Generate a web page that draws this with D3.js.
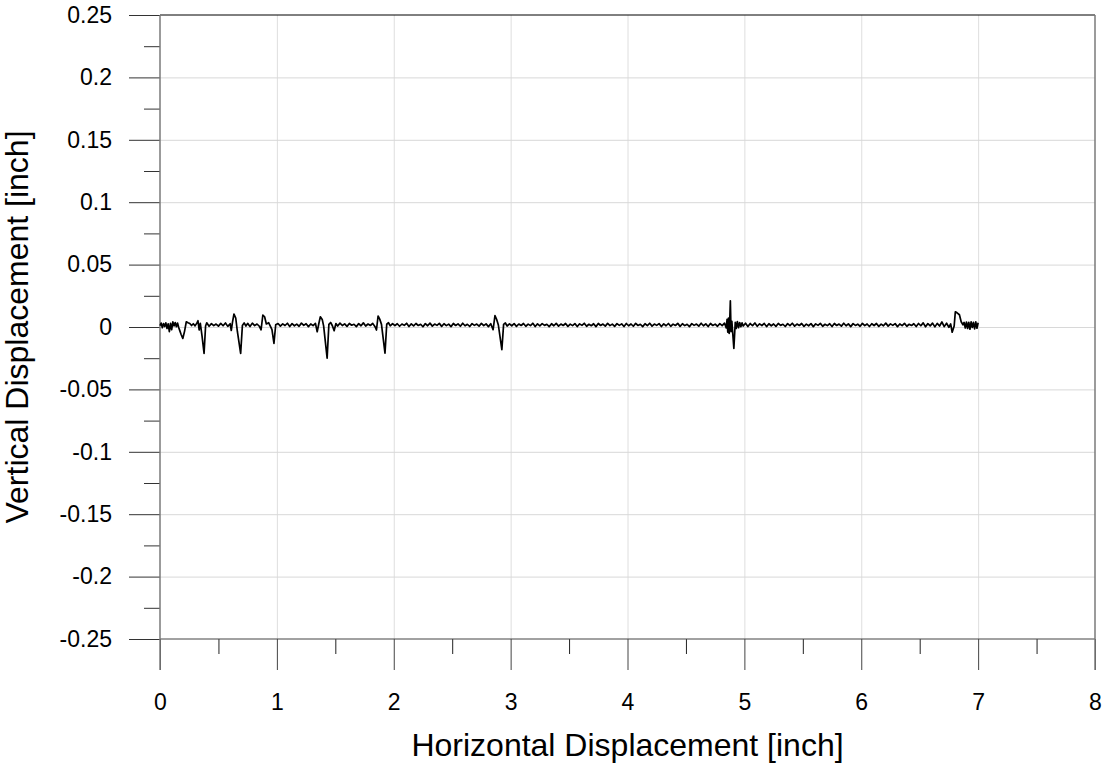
<!DOCTYPE html>
<html>
<head>
<meta charset="utf-8">
<script src="https://cdn.jsdelivr.net/npm/d3@7"></script>
<style>
  body { margin: 0; background: #fff; }
  text { font-family: "Liberation Sans", Arial, sans-serif; fill: #000; }
</style>
</head>
<body>
<svg id="chart" width="1102" height="764"></svg>
<script>
// Axis ticks and labels
const xTickValues = [0, 1, 2, 3, 4, 5, 6, 7, 8];
const xTickLabels = ["0", "1", "2", "3", "4", "5", "6", "7", "8"];
const xMinorTicks = [0.5, 1.5, 2.5, 3.5, 4.5, 5.5, 6.5, 7.5];
const yTickValues = [0.25, 0.2, 0.15, 0.1, 0.05, 0, -0.05, -0.1, -0.15, -0.2, -0.25];
const yTickLabels = ["0.25", "0.2", "0.15", "0.1", "0.05", "0", "-0.05", "-0.1", "-0.15", "-0.2", "-0.25"];
const yMinorTicks = [0.225, 0.175, 0.125, 0.075, 0.025, -0.025, -0.075, -0.125, -0.175, -0.225];

const xTitle = "Horizontal Displacement [inch]";
const yTitle = "Vertical Displacement [inch]";

// Measured profile: [horizontal, vertical] in inches
const trace = [
  [0,.0012],[.01,.0031],[.02,-.0006],[.03,.0028],[.04,.0004],[.05,.0033],[.06,-.0012],[.07,.0026],[.08,-.0038],[.09,.0030],
  [.10,-.0022],[.11,.0041],[.12,.0009],[.13,.0036],[.14,.0002],[.15,.0032],[.16,-.0004],[.17,-.0031],[.18,-.0058],[.195,-.0092],
  [.21,-.0035],[.225,.0042],[.24,.0034],[.255,.0028],[.27,.0012],[.285,.0026],[.30,.0009],[.315,.0031],[.325,.0050],[.335,-.0024],
  [.345,.0030],[.36,-.0075],[.377,-.0212],[.39,.0008],[.40,.0034],[.42,.0006],[.44,.0027],[.46,.0011],[.48,.0024],[.50,.0007],
  [.52,.0029],[.54,.0010],[.56,.0032],[.58,.0005],[.60,.0026],[.61,-.0028],[.62,.0037],[.633,.0104],[.648,.0072],[.662,-.0036],
  [.69,-.0212],[.705,.0012],[.72,.0033],[.735,.0008],[.75,.0029],[.77,.0004],[.79,.0031],[.81,.0011],[.83,.0024],[.85,.0006],
  [.865,-.0022],[.88,.0096],[.895,.0082],[.91,.0024],[.93,.0034],[.945,.0005],[.958,-.0021],[.975,-.0132],[.99,.0018],
  [1.01,.0028],[1.03,.0007],[1.05,.0025],[1.07,.0012],[1.09,.0030],[1.11,.0004],[1.13,.0027],[1.15,.0010],[1.17,.0023],[1.19,.0006],
  [1.21,.0031],[1.23,.0013],[1.25,.0026],[1.27,.0003],[1.29,.0024],[1.31,.0011],[1.33,.0029],[1.345,-.0038],[1.36,.0032],[1.372,.0082],
  [1.388,.0061],[1.40,.0009],[1.43,-.0250],[1.445,.0021],[1.46,.0036],[1.475,.0010],[1.49,-.0030],[1.505,.0028],[1.52,.0008],[1.54,.0031],
  [1.56,.0012],[1.58,.0025],[1.60,.0005],[1.62,.0028],[1.64,.0014],[1.66,.0022],[1.68,.0003],[1.70,.0027],[1.72,.0010],[1.74,.0033],
  [1.76,.0008],[1.78,.0024],[1.80,.0012],[1.82,.0029],[1.84,.0002],[1.852,-.0024],[1.866,.0088],[1.88,.0063],[1.895,.0021],[1.925,-.0210],
  [1.94,.0022],[1.955,.0034],[1.97,.0009],[1.99,.0027],
  [2.01,.0011],[2.03,.0026],[2.05,.0006],[2.07,.0024],[2.09,.0013],[2.11,.0030],[2.13,.0004],[2.15,.0025],[2.17,.0009],[2.19,.0028],
  [2.21,.0012],[2.23,.0022],[2.25,.0002],[2.27,.0027],[2.29,.0010],[2.31,.0031],[2.33,.0007],[2.35,.0024],[2.37,.0013],[2.39,.0029],
  [2.41,.0005],[2.43,.0026],[2.45,.0011],[2.47,.0023],[2.49,.0003],[2.51,.0028],[2.53,.0012],[2.55,.0025],[2.57,.0006],[2.59,.0030],
  [2.61,.0010],[2.63,.0022],[2.65,.0004],[2.67,.0027],[2.69,.0013],[2.71,.0024],[2.73,.0007],[2.75,.0029],[2.77,.0011],[2.79,.0025],
  [2.81,.0003],[2.83,.0026],[2.85,-.0022],[2.866,.0091],[2.88,.0062],[2.895,.0016],[2.925,-.0182],[2.94,.0021],[2.955,.0032],[2.97,.0008],
  [2.99,.0025],
  [3.01,.0010],[3.03,.0027],[3.05,.0005],[3.07,.0024],[3.09,.0012],[3.11,.0028],[3.13,.0006],[3.15,.0023],[3.17,.0011],[3.19,.0030],
  [3.21,.0004],[3.23,.0025],[3.25,.0009],[3.27,.0027],[3.29,.0013],[3.31,.0022],[3.33,.0003],[3.35,.0026],[3.37,.0010],[3.39,.0029],
  [3.41,.0007],[3.43,.0024],[3.45,.0012],[3.47,.0028],[3.49,.0005],[3.51,.0023],[3.53,.0011],[3.55,.0027],[3.57,.0004],[3.59,.0025],
  [3.61,.0013],[3.63,.0030],[3.65,.0006],[3.67,.0022],[3.69,.0010],[3.71,.0026],[3.73,.0003],[3.75,.0028],[3.77,.0012],[3.79,.0024],
  [3.81,.0007],[3.83,.0029],[3.85,.0011],[3.87,.0023],[3.89,.0005],[3.91,.0027],[3.93,.0013],[3.95,.0025],[3.97,.0004],[3.99,.0028],
  [4.01,.0010],[4.03,.0024],[4.05,.0006],[4.07,.0029],[4.09,.0012],[4.11,.0022],[4.13,.0003],[4.15,.0026],[4.17,.0011],[4.19,.0030],
  [4.21,.0007],[4.23,.0024],[4.25,.0013],[4.27,.0027],[4.29,.0004],[4.31,.0025],[4.33,.0010],[4.35,.0028],[4.37,.0006],[4.39,.0023],
  [4.41,.0012],[4.43,.0029],[4.45,.0005],[4.47,.0026],[4.49,.0011],[4.51,.0022],[4.53,.0003],[4.55,.0027],[4.57,.0013],[4.59,.0024],
  [4.61,.0007],[4.63,.0030],[4.65,.0010],[4.67,.0025],[4.69,.0004],[4.71,.0028],[4.73,.0012],[4.75,.0023],[4.77,.0006],[4.79,.0027],
  [4.81,.0011],[4.83,.0031],[4.845,-.0008],[4.852,.0062],[4.858,-.0041],[4.864,.0071],[4.87,-.0052],[4.875,.0055],[4.88,.0210],[4.886,-.0038],
  [4.893,.0046],[4.91,-.0172],[4.922,.0038],[4.93,-.0012],[4.94,.0044],[4.95,-.0006],[4.96,.0036],[4.97,.0002],[4.98,.0033],[4.99,.0008],
  [5.01,.0030],[5.03,.0004],[5.05,.0028],[5.07,.0011],[5.09,.0032],[5.11,.0006],[5.13,.0025],[5.15,.0012],[5.17,.0029],[5.19,.0003],
  [5.21,.0026],[5.23,.0010],[5.25,.0024],[5.27,.0005],[5.29,.0028],[5.31,.0013],[5.33,.0022],[5.35,.0004],[5.37,.0027],[5.39,.0011],
  [5.41,.0030],[5.43,.0007],[5.45,.0024],[5.47,.0012],[5.49,.0028],[5.51,.0005],[5.53,.0023],[5.55,.0010],[5.57,.0027],[5.59,.0003],
  [5.61,.0025],[5.63,.0013],[5.65,.0029],[5.67,.0006],[5.69,.0022],[5.71,.0011],[5.73,.0026],[5.75,.0004],[5.77,.0028],[5.79,.0012],
  [5.81,.0024],[5.83,.0007],[5.85,.0030],[5.87,.0010],[5.89,.0025],[5.91,.0003],[5.93,.0027],[5.95,.0013],[5.97,.0023],[5.99,.0006],
  [6.01,.0029],[6.03,.0011],[6.05,.0024],[6.07,.0004],[6.09,.0026],[6.11,.0012],[6.13,.0028],[6.15,.0005],[6.17,.0023],[6.19,.0010],
  [6.21,.0031],[6.23,.0007],[6.25,.0025],[6.27,.0013],[6.29,.0027],[6.31,.0003],[6.33,.0024],[6.35,.0011],[6.37,.0029],[6.39,.0006],
  [6.41,.0022],[6.43,.0012],[6.45,.0026],[6.47,.0004],[6.49,.0028],[6.51,.0010],[6.53,.0033],[6.55,.0002],[6.57,.0027],[6.59,.0009],
  [6.61,.0031],[6.63,.0001],[6.65,.0029],[6.67,.0008],[6.69,.0040],[6.71,.0003],[6.73,.0030],[6.75,-.0002],[6.765,.0024],[6.778,-.0042],
  [6.795,.0008],[6.805,.0122],[6.82,.0114],[6.84,.0098],[6.855,.0042],[6.87,.0018],[6.88,.0036],[6.89,-.0008],[6.90,.0040],[6.91,-.0012],
  [6.92,.0038],[6.93,-.0018],[6.94,.0042],[6.95,-.0004],[6.96,.0037],[6.97,-.0015],[6.98,.0041],[6.99,-.0010],[7.0,.0034]
];

const svg = d3.select("#chart");
const plot = { left: 160, right: 1095, top: 15, bottom: 639 };
const majorLen = 31, minorLen = 16;
const tickFont = 23, titleFont = 32;

const x = d3.scaleLinear().domain([0, 8]).range([plot.left, plot.right]);
const y = d3.scaleLinear().domain([-0.25, 0.25]).range([plot.bottom, plot.top]);

function clean(g) { g.select(".domain").remove(); }

// Grid
svg.append("g")
  .attr("transform", `translate(0,${plot.bottom})`)
  .call(d3.axisBottom(x).tickValues(xTickValues.slice(1, -1)).tickSize(-(plot.bottom - plot.top)).tickFormat(""))
  .call(clean)
  .selectAll("line").attr("stroke", "#dedede");
svg.append("g")
  .attr("transform", `translate(${plot.left},0)`)
  .call(d3.axisLeft(y).tickValues(yTickValues.slice(1, -1)).tickSize(-(plot.right - plot.left)).tickFormat(""))
  .call(clean)
  .selectAll("line").attr("stroke", "#d8d8d8");

// Y axis: major ticks with labels, minor ticks
const yAxisG = svg.append("g")
  .attr("transform", `translate(${plot.left},0)`)
  .call(d3.axisLeft(y).tickValues(yTickValues).tickSize(majorLen).tickPadding(17)
    .tickFormat((d, i) => yTickLabels[i]))
  .call(clean);
yAxisG.selectAll("line").attr("stroke", "#333");
yAxisG.selectAll("text").attr("font-size", tickFont).attr("font-family", "Liberation Sans, Arial, sans-serif").attr("fill", "#000");

svg.append("g")
  .attr("transform", `translate(${plot.left},0)`)
  .call(d3.axisLeft(y).tickValues(yMinorTicks).tickSize(minorLen).tickFormat(""))
  .call(clean)
  .selectAll("line").attr("stroke", "#333");

// X axis: major ticks with labels, minor ticks
const xAxisG = svg.append("g")
  .attr("transform", `translate(0,${plot.bottom})`)
  .call(d3.axisBottom(x).tickValues(xTickValues).tickSize(majorLen).tickPadding(24)
    .tickFormat((d, i) => xTickLabels[i]))
  .call(clean);
xAxisG.selectAll("line").attr("stroke", "#444");
xAxisG.selectAll("text").attr("font-size", tickFont).attr("font-family", "Liberation Sans, Arial, sans-serif").attr("fill", "#000");

svg.append("g")
  .attr("transform", `translate(0,${plot.bottom})`)
  .call(d3.axisBottom(x).tickValues(xMinorTicks).tickSize(minorLen - 1).tickFormat(""))
  .call(clean)
  .selectAll("line").attr("stroke", "#222");

// Frame
const frame = svg.append("g").attr("fill", "none");
frame.append("line")
  .attr("x1", x(0)).attr("x2", x(8)).attr("y1", y(0.25)).attr("y2", y(0.25))
  .attr("stroke", "#000");
frame.append("line")
  .attr("x1", x(0)).attr("x2", x(8)).attr("y1", y(-0.25)).attr("y2", y(-0.25))
  .attr("stroke", "#444");
frame.append("line")
  .attr("x1", x(0)).attr("x2", x(0)).attr("y1", y(0.25)).attr("y2", y(-0.25) + majorLen)
  .attr("stroke", "#7a7a7a").attr("stroke-width", 1.5);
frame.append("line")
  .attr("x1", x(8)).attr("x2", x(8)).attr("y1", y(0.25)).attr("y2", y(-0.25) + majorLen)
  .attr("stroke", "#7a7a7a").attr("stroke-width", 1.5);

// Profile trace
svg.append("path")
  .datum(trace)
  .attr("fill", "none")
  .attr("stroke", "#000")
  .attr("stroke-width", 1.7)
  .attr("stroke-linejoin", "round")
  .attr("d", d3.line().x(d => x(d[0])).y(d => y(d[1])));

// Axis titles
svg.append("text")
  .attr("x", (plot.left + plot.right) / 2)
  .attr("y", 756)
  .attr("text-anchor", "middle")
  .attr("font-size", titleFont)
  .text(xTitle);
svg.append("text")
  .attr("transform", `translate(28,${(plot.top + plot.bottom) / 2}) rotate(-90)`)
  .attr("text-anchor", "middle")
  .attr("font-size", titleFont)
  .text(yTitle);
</script>
</body>
</html>
